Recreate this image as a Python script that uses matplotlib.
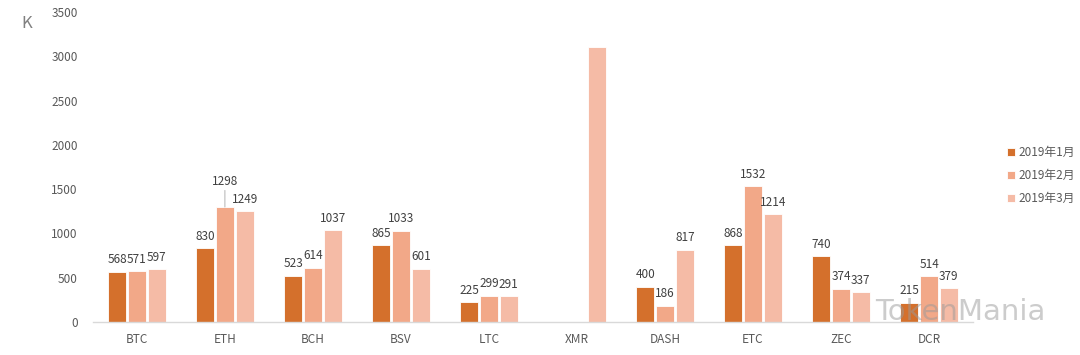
import numpy as np
import matplotlib
matplotlib.use("Agg")
import matplotlib.pyplot as plt

categories = ["BTC", "ETH", "BCH", "BSV", "LTC", "XMR", "DASH", "ETC", "ZEC", "DCR"]
jan = [568, 830, 523, 865, 225, np.nan, 400, 868, 740, 215]
feb = [571, 1298, 614, 1033, 299, np.nan, 186, 1532, 374, 514]
mar = [597, 1249, 1037, 601, 291, 3105, 817, 1214, 337, 379]
series_names = ["2019年1月", "2019年2月", "2019年3月"]
colors = ["#D4702C", "#F2A888", "#F5BBA6"]
yticks = [0, 500, 1000, 1500, 2000, 2500, 3000, 3500]

plt.rcParams['font.family'] = ['Noto Sans CJK SC', 'DejaVu Sans']

fig = plt.figure(figsize=(10.8, 3.55), dpi=100)
ax = fig.add_axes([0.086, 0.093, 0.815, 0.873])

x = np.arange(len(categories))
w = 0.205
step = 0.225
series = [jan, feb, mar]
for i, (vals, c, name) in enumerate(zip(series, colors, series_names)):
    xs = x + (i - 1) * step
    ax.bar(xs, vals, width=w, color=c, edgecolor="white", linewidth=0.6, label=name)
    for j, v in enumerate(vals):
        if np.isnan(v) or categories[j] == "XMR":
            continue
        if categories[j] == "ETH" and i == 1:
            ax.annotate(f"{int(v)}", xy=(xs[j], v), xytext=(0, 14), textcoords="offset points",
                        ha="center", va="bottom", fontsize=8.5, color="#404040",
                        arrowprops=dict(arrowstyle="-", color="#A6A6A6", lw=0.6, shrinkA=0, shrinkB=0))
        else:
            ax.annotate(f"{int(v)}", xy=(xs[j], v), xytext=(0, 4), textcoords="offset points",
                        ha="center", va="bottom", fontsize=8.5, color="#404040")

ax.set_xlim(-0.5, len(categories) - 0.5)
ax.set_ylim(0, 3500)
ax.set_yticks(yticks)
ax.set_yticklabels([str(t) for t in yticks], fontsize=8.5, color="#595959")
ax.set_xticks(x)
ax.set_xticklabels(categories, fontsize=8.5, color="#595959")
ax.tick_params(axis="both", length=0)
ax.tick_params(axis="y", pad=11)
ax.tick_params(axis="x", pad=8)
for s in ["top", "right", "left"]:
    ax.spines[s].set_visible(False)
ax.spines["bottom"].set_color("#D9D9D9")
ax.spines["bottom"].set_linewidth(1.0)

fig.text(0.025, 0.935, "K", fontsize=12, color="#808080", ha="center", va="center")

leg = fig.legend(loc="center left", bbox_to_anchor=(0.932, 0.505), frameon=False,
                 fontsize=8.5, labelcolor="#595959", handlelength=0.7, handleheight=0.7,
                 handletextpad=0.35, labelspacing=0.85, borderpad=0, borderaxespad=0)

fig.text(0.968, 0.12, "TokenMania", fontsize=21, color="#9a9a9a", alpha=0.5,
         ha="right", va="center", family=["DejaVu Sans"])

fig.savefig("out.png", dpi=100)
